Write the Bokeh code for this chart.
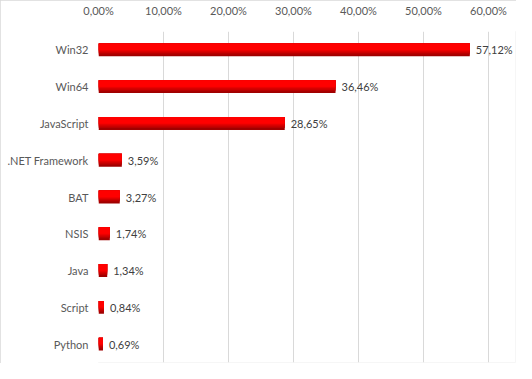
from bokeh.plotting import figure
from bokeh.models import ColumnDataSource, FixedTicker, Range1d, FactorRange
from bokeh.transform import dodge
from bokeh.core.properties import value
from bokeh.embed import file_html
from bokeh.resources import INLINE

categories = ["Win32", "Win64", "JavaScript", ".NET Framework", "BAT", "NSIS", "Java", "Script", "Python"]
shares = [57.12, 36.46, 28.65, 3.59, 3.27, 1.74, 1.34, 0.84, 0.69]
tick_values = [0, 10, 20, 30, 40, 50, 60]
tick_labels = ["0,00%", "10,00%", "20,00%", "30,00%", "40,00%", "50,00%", "60,00%"]

labels = [f"{v:.2f}".replace(".", ",") + "%" for v in shares]
source = ColumnDataSource(dict(cat=categories, val=shares, lab=labels))

FONT = "Lato"

p = figure(frame_width=417, frame_height=331, output_backend="svg", toolbar_location=None,
           y_range=FactorRange(*list(reversed(categories))),
           x_range=Range1d(0, 64.15), x_axis_location="above",
           min_border_left=98, min_border_right=1, min_border_top=31, min_border_bottom=1)
p.outline_line_color = None
p.background_fill_color = "white"
p.border_fill_color = "white"
p.styles = {"outline": "1px solid #d9d9d9", "outline-offset": "-1px"}

# gradient bars: full bar in darkest colour, then top-anchored overlays of shrinking height
bar_h = 0.35
layers = [(1.0, "#a00000"), (0.85, "#b80000"), (0.75, "#cc0000"),
          (0.65, "#e00000"), (0.57, "#f20000"), (0.5, "#ff0000")]
for frac, c in layers:
    h = bar_h * frac
    off = bar_h / 2 - h / 2
    p.hbar(y=dodge("cat", off, range=p.y_range), right="val", left=0, height=h,
           source=source, fill_color=c, line_color=None)

p.text(x="val", y="cat", text="lab", source=source, x_offset=6,
       text_baseline="middle", text_align="left", text_font=value(FONT),
       text_font_size="11px", text_color="#404040")

xa = p.xaxis[0]
xa.ticker = FixedTicker(ticks=tick_values)
xa.major_label_overrides = {t: l for t, l in zip(tick_values, tick_labels)}
xa.axis_line_color = None
xa.major_tick_line_color = None
xa.minor_tick_line_color = None
xa.major_label_text_font = FONT
xa.major_label_text_font_size = "11px"
xa.major_label_text_color = "#595959"
xa.major_label_standoff = 9

ya = p.yaxis[0]
ya.axis_line_color = None
ya.major_tick_line_color = None
ya.minor_tick_line_color = None
ya.major_label_text_font = FONT
ya.major_label_text_font_size = "11px"
ya.major_label_text_color = "#595959"
ya.major_label_standoff = 4

p.xgrid.ticker = FixedTicker(ticks=tick_values)
p.xgrid.grid_line_color = "#d9d9d9"
p.ygrid.grid_line_color = None

open("out.html", "w").write(file_html(p, INLINE))
